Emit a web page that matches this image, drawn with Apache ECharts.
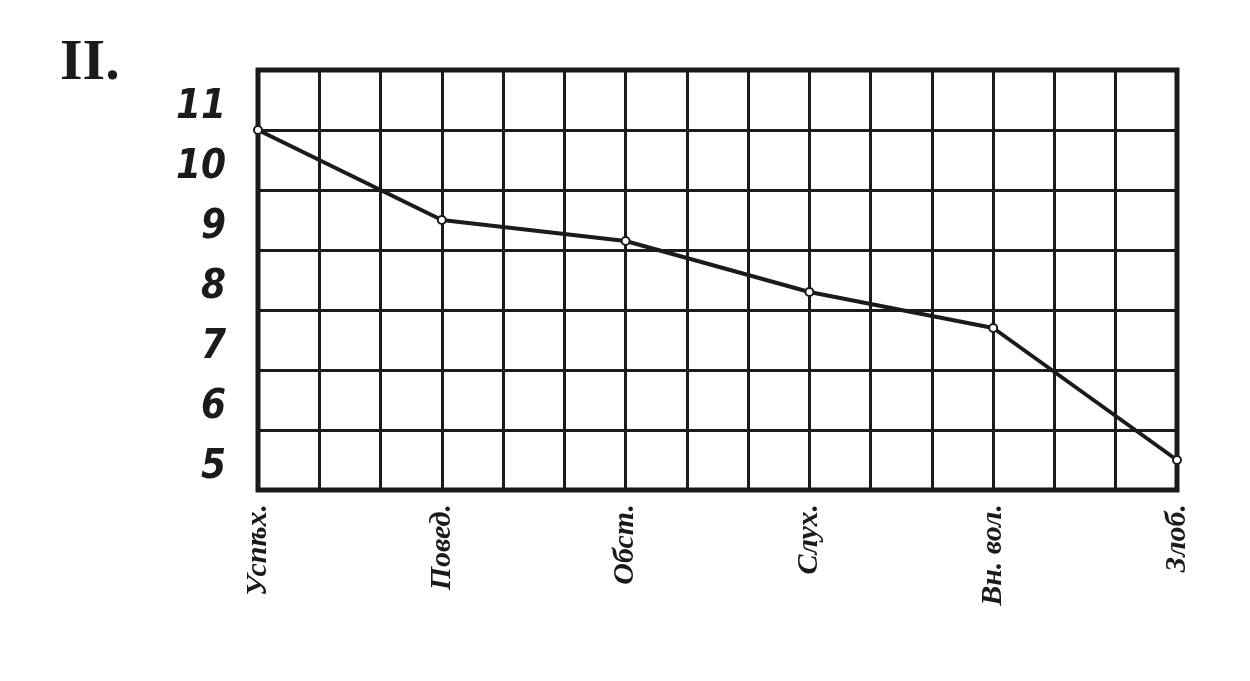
<!DOCTYPE html>
<html>
<head>
<meta charset="utf-8">
<script src="https://cdn.jsdelivr.net/npm/echarts@6/dist/echarts.min.js"></script>
<style>
html,body{margin:0;padding:0;background:#ffffff;}
#chart{width:1250px;height:681px;}
</style>
</head>
<body>
<div id="chart"></div>
<script>
// ---- data ----
var categories = ['Успѣх.', 'Повед.', 'Обст.', 'Слух.', 'Вн. вол.', 'Злоб.'];
var values = [11.0, 9.5, 9.15, 8.3, 7.7, 5.5];
var yTicks = [5, 6, 7, 8, 9, 10, 11];
var columnsPerCategory = 3;   // categories sit on every third grid column
var titleText = 'II.';

var ink = '#1b1b1b';
var chart = echarts.init(document.getElementById('chart'));

var seriesData = values.map(function (v, i) { return [i * columnsPerCategory, v]; });
var xMax = (categories.length - 1) * columnsPerCategory;

chart.setOption({
  backgroundColor: '#ffffff',
  animation: false,
  graphic: [{
    type: 'text',
    left: 60,
    top: 35,
    style: {
      text: titleText,
      font: 'bold 58px "Liberation Serif", "DejaVu Serif", serif',
      fill: ink
    }
  }],
  grid: {
    left: 258, right: 73, top: 70, bottom: 191,
    show: true,
    borderColor: ink,
    borderWidth: 5,
    backgroundColor: 'transparent'
  },
  xAxis: {
    type: 'value',
    min: 0,
    max: xMax,
    interval: 1,
    axisLine: { show: false },
    axisTick: { show: false },
    splitLine: { show: true, lineStyle: { color: ink, width: 3 } },
    axisLabel: {
      show: true,
      rotate: 90,
      margin: 14,
      color: ink,
      fontFamily: '"Liberation Serif", "DejaVu Serif", serif',
      fontStyle: 'italic',
      fontWeight: 'bold',
      fontSize: 30,
      formatter: function (v) {
        return (v % columnsPerCategory === 0) ? categories[v / columnsPerCategory] : '';
      }
    }
  },
  yAxis: {
    type: 'value',
    min: yTicks[0],
    max: yTicks[yTicks.length - 1] + 1,
    interval: 1,
    axisLine: { show: false },
    axisTick: { show: false },
    splitLine: { show: true, lineStyle: { color: ink, width: 3 } },
    axisLabel: {
      show: true,
      margin: 32,
      color: ink,
      fontFamily: '"Liberation Sans Narrow", "DejaVu Sans Condensed", sans-serif',
      fontStyle: 'italic',
      fontWeight: 'bold',
      fontSize: 40,
      verticalAlign: 'bottom',
      lineHeight: 44,
      formatter: function (v) {
        return yTicks.indexOf(v) >= 0 ? String(v) : '';
      }
    }
  },
  series: [{
    type: 'line',
    data: seriesData,
    symbol: 'emptyCircle',
    symbolSize: 8,
    lineStyle: { color: ink, width: 4 },
    itemStyle: { color: ink, borderColor: ink, borderWidth: 2 },
    z: 5
  }]
});
</script>
</body>
</html>
